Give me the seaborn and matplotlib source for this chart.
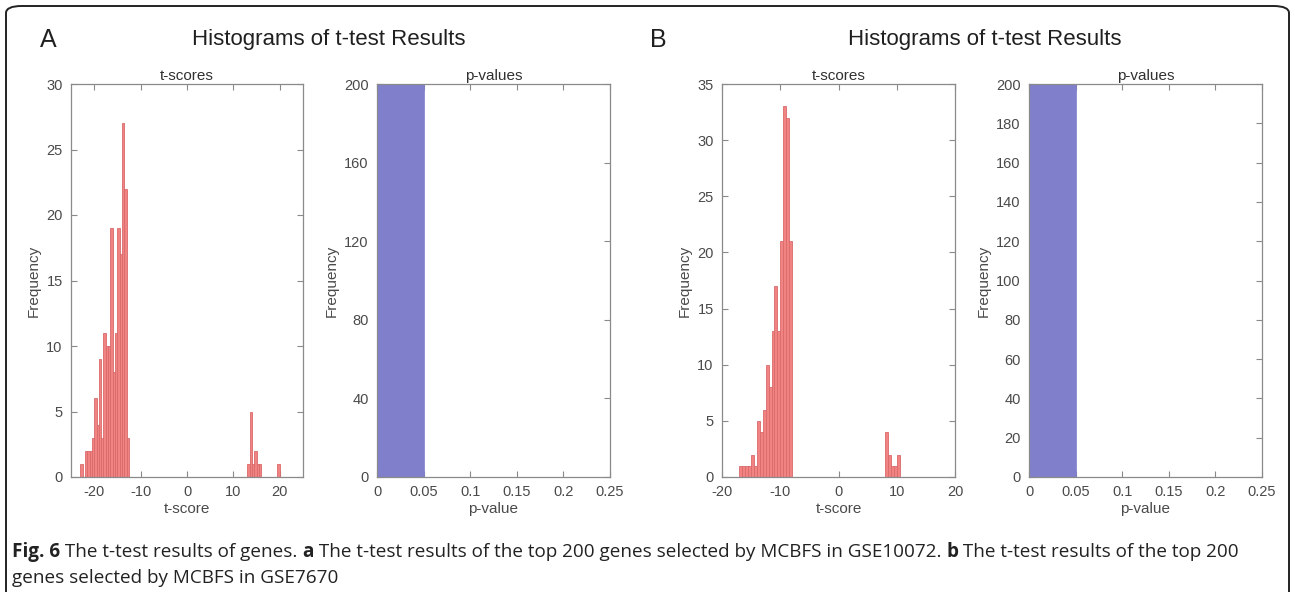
import numpy as np
import pandas as pd
import matplotlib
matplotlib.use("Agg")
import matplotlib.pyplot as plt
import seaborn as sns
from matplotlib.patches import FancyBboxPatch
from matplotlib import font_manager

# ---------------- data ----------------
# Panel A (GSE10072): t-score histogram, left bin edges and counts (bin width 0.5)
tA_left = [-23.0, -22.5, -22.0, -21.5, -21.0, -20.5, -20.0, -19.5, -19.0, -18.5,
           -18.0, -17.5, -17.0, -16.5, -16.0, -15.5, -15.0, -14.5, -14.0, -13.5,
           -13.0, 13.0, 13.5, 14.0, 14.5, 15.0, 15.5, 19.5]
tA_count = [1, 0, 2, 2, 2, 3, 6, 4, 9, 3,
            11, 10, 10, 19, 8, 11, 19, 17, 27, 22,
            3, 1, 5, 1, 2, 1, 1, 1]
# Panel B (GSE7670)
tB_left = [-17.0, -16.5, -16.0, -15.5, -15.0, -14.5, -14.0, -13.5, -13.0, -12.5,
           -12.0, -11.5, -11.0, -10.5, -10.0, -9.5, -9.0, -8.5,
           8.0, 8.5, 9.0, 9.5, 10.0]
tB_count = [1, 1, 1, 1, 2, 1, 5, 4, 6, 10,
            8, 13, 17, 13, 21, 33, 32, 21,
            4, 2, 1, 1, 2]
t_binwidth = 0.5
# p-value histograms (both panels)
p_left = [0.0]
p_count = [200]
p_binwidth = 0.05

tA_yticks = [0, 5, 10, 15, 20, 25, 30]
pA_yticks = [0, 40, 80, 120, 160, 200]
tB_yticks = [0, 5, 10, 15, 20, 25, 30, 35]
pB_yticks = [0, 20, 40, 60, 80, 100, 120, 140, 160, 180, 200]
t_xticks = [-20, -10, 0, 10, 20]
p_xticks = [0, 0.05, 0.1, 0.15, 0.2, 0.25]
p_xticklabels = ["0", "0.05", "0.1", "0.15", "0.2", "0.25"]

# ---------------- style ----------------
sns.set_theme(style="white")
avail = {f.name for f in font_manager.fontManager.ttflist}
base_font = "Liberation Sans" if "Liberation Sans" in avail else "DejaVu Sans"
plt.rcParams["font.family"] = [base_font, "DejaVu Sans"]
plt.rcParams["axes.unicode_minus"] = False
cap_font = "Open Sans" if "Open Sans" in avail else base_font

RED = "#F28383"
RED_EDGE = "#D96A6A"
BLUE = "#7F7FCB"
AX_COL = "#8A8A8A"
TXT_COL = "#4A4A4A"

W, H = 1295, 592
fig = plt.figure(figsize=(W / 100, H / 100), dpi=100)
fig.patch.set_facecolor("white")


def px_axes(x0, x1, y0, y1):
    return fig.add_axes([x0 / W, 1 - y1 / H, (x1 - x0) / W, (y1 - y0) / H])


def style_ax(ax, title, xlabel):
    for s in ax.spines.values():
        s.set_color(AX_COL)
        s.set_linewidth(0.9)
    ax.tick_params(direction="in", length=4, width=0.8, color=AX_COL,
                   labelcolor=TXT_COL, labelsize=10.5, top=True, right=True,
                   bottom=True, left=True, pad=6)
    ax.set_title(title, fontsize=11, color="#303030", pad=3)
    ax.set_xlabel(xlabel, fontsize=11, color=TXT_COL, labelpad=2)
    ax.set_ylabel("Frequency", fontsize=11, color=TXT_COL, labelpad=4)


def t_hist(ax, left, count, xlim, yticks):
    df = pd.DataFrame({"t": np.asarray(left) + t_binwidth / 2, "n": count})
    sns.histplot(data=df, x="t", weights="n", binwidth=t_binwidth, binrange=xlim, ax=ax,
                 color=RED, alpha=1, edgecolor=RED_EDGE, linewidth=0.6)
    ax.set_xlim(*xlim)
    ax.set_ylim(yticks[0], yticks[-1])
    ax.set_xticks(t_xticks)
    ax.set_yticks(yticks)
    style_ax(ax, "t-scores", "t-score")


def p_hist(ax, yticks):
    df = pd.DataFrame({"p": np.asarray(p_left) + p_binwidth / 2, "n": p_count})
    sns.histplot(data=df, x="p", weights="n", binwidth=p_binwidth,
                 binrange=(0, 0.05), ax=ax, color=BLUE, alpha=1,
                 edgecolor=BLUE, linewidth=0.5)
    ax.set_xlim(0, 0.25)
    ax.set_ylim(yticks[0], yticks[-1])
    ax.set_xticks(p_xticks)
    ax.set_xticklabels(p_xticklabels)
    ax.set_yticks(yticks)
    style_ax(ax, "p-values", "p-value")


Y0, Y1 = 84, 477
axA1 = px_axes(71, 303, Y0, Y1)
axA2 = px_axes(377, 610, Y0, Y1)
axB1 = px_axes(722, 955, Y0, Y1)
axB2 = px_axes(1029, 1262, Y0, Y1)

t_hist(axA1, tA_left, tA_count, (-25, 25), tA_yticks)
p_hist(axA2, pA_yticks)
t_hist(axB1, tB_left, tB_count, (-20, 20), tB_yticks)
p_hist(axB2, pB_yticks)

# panel letters and super titles
fig.text(40 / W, 1 - 40 / H, "A", fontsize=18, color="#202020", va="center", ha="left")
fig.text(650 / W, 1 - 40 / H, "B", fontsize=18, color="#202020", va="center", ha="left")
fig.text(329 / W, 1 - 40 / H, "Histograms of t-test Results", fontsize=16,
         color="#202020", va="center", ha="center")
fig.text(985 / W, 1 - 40 / H, "Histograms of t-test Results", fontsize=16,
         color="#202020", va="center", ha="center")

# frame (its bottom edge runs past the lower image border)
frame = FancyBboxPatch((6 / W, -10 / H), 1283 / W, 596 / H,
                       boxstyle="round,pad=0,rounding_size=0.012",
                       transform=fig.transFigure, fill=False,
                       edgecolor="#222222", linewidth=1.4)
fig.add_artist(frame)

# caption with bold pieces, fitted to the reference line width
fig.canvas.draw()
renderer = fig.canvas.get_renderer()

line1 = [("Fig. 6", True), (" The t-test results of genes. ", False), ("a", True),
         (" The t-test results of the top 200 genes selected by MCBFS in GSE10072. ", False),
         ("b", True), (" The t-test results of the top 200", False)]
line2 = [("genes selected by MCBFS in GSE7670", False)]


def rich_line(pieces, x_px, y_px, size):
    x = x_px
    for txt, bold in pieces:
        t = fig.text(x / W, 1 - y_px / H, txt, fontsize=size, family=[cap_font, "DejaVu Sans"],
                     fontweight="bold" if bold else "normal", color="#222222",
                     va="baseline", ha="left")
        bb = t.get_window_extent(renderer=renderer)
        x += bb.width
    return x


# measure at a trial size, then rescale so line 1 spans x = 12 .. 1243 px
trial = 10.0
tmp_end = rich_line(line1, 12, -100, trial)
for t in list(fig.texts[-len(line1):]):
    t.remove()
cap_size = trial * (1243 - 12) / (tmp_end - 12)
rich_line(line1, 12, 557, cap_size)
rich_line(line2, 12, 583, cap_size)

fig.savefig("out.png", dpi=100, facecolor="white")
